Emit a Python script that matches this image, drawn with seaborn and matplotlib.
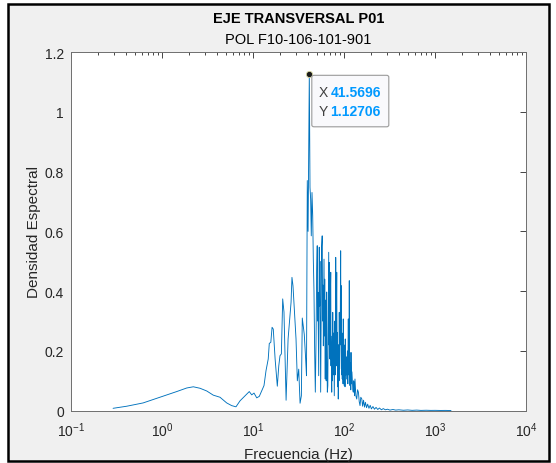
import matplotlib
matplotlib.use('Agg')
import numpy as np
import pandas as pd
import seaborn as sns
import matplotlib.pyplot as plt
from matplotlib.patches import Rectangle, FancyBboxPatch
from matplotlib.ticker import FixedLocator, FormatStrFormatter, LogLocator, NullFormatter

# ---------------- data ----------------
# low-frequency part
freq_low = [0.29, 0.41, 0.62, 0.95, 1.45, 1.87, 2.21, 2.62, 3.10, 3.66,
            4.34, 5.14, 5.83, 6.50, 7.20, 8.17, 9.10, 9.68, 10.26, 10.99,
            11.73, 12.47, 13.21, 13.9, 14.7, 15.1, 15.7, 16.2, 16.7, 17.5,
            18.5, 19.2, 19.8]
dens_low = [0.008, 0.015, 0.026, 0.045, 0.064, 0.076, 0.080, 0.075, 0.066, 0.052,
            0.045, 0.026, 0.017, 0.013, 0.033, 0.050, 0.064, 0.053, 0.059, 0.043,
            0.048, 0.067, 0.084, 0.134, 0.173, 0.225, 0.229, 0.279, 0.273, 0.173,
            0.082, 0.150, 0.184]
# main peak region
freq_peak = [20.5, 21.2, 21.9, 23.1, 24.3, 26.2, 26.8, 27.5, 29.7, 30.7,
             31.8, 32.9, 34.0, 34.8, 36.6, 37.9, 38.7, 39.5, 40.3, 41.5696,
             42.3, 43.0, 43.7, 44.5, 45.3, 46.0]
dens_peak = [0.190, 0.374, 0.330, 0.035, 0.240, 0.363, 0.446, 0.418, 0.240, 0.100,
             0.139, 0.025, 0.050, 0.310, 0.255, 0.173, 0.117, 0.770, 0.600, 1.12706,
             0.747, 0.708, 0.585, 0.730, 0.652, 0.507]
# dense band
freq_band = [46.8, 47.6, 48.4, 49.2, 50.1, 50.8, 51.3, 51.8, 52.7, 53.5,
             54.0, 54.4, 55.0, 55.4, 56.1, 56.8, 57.6, 58.3, 58.8, 59.3,
             60.3, 60.9, 61.4, 62.2, 62.6, 63.0, 63.8, 64.5, 65.0, 65.6,
             66.4, 67.2, 67.9, 68.5, 69.0, 69.5, 70.0, 70.8, 71.5, 72.0,
             72.4, 73.3, 73.8, 74.2, 74.7, 75.2, 75.9, 76.7, 77.4, 78.2,
             78.9, 79.5, 80.3, 81.1, 81.7, 82.2, 82.7, 83.2, 83.8, 84.4,
             85.0, 85.5, 86.0, 86.5, 87.1, 87.6, 88.2, 88.7, 89.5, 90.3,
             91.1, 91.9, 92.6, 93.4, 94.0, 94.5, 95.1, 95.7, 96.3, 97.0,
             97.6, 98.2, 98.8, 99.5, 100.1, 100.7, 101.4, 102.0, 102.6, 103.3,
             104.1, 105.0, 106.0, 107.0, 108.0, 109.0, 110.2, 111.5, 112.3, 113.0,
             113.7, 114.3, 115.3, 116.4, 117.2, 118.0, 118.7, 119.4, 120.2, 121.0,
             122.2, 123.4, 125.0, 126.5, 127.8, 129.0, 130.5, 132.0]
dens_band = [0.397, 0.196, 0.062, 0.217, 0.464, 0.552, 0.300, 0.396, 0.117, 0.547,
             0.350, 0.500, 0.200, 0.062, 0.300, 0.550, 0.585, 0.300, 0.420, 0.217,
             0.507, 0.250, 0.440, 0.106, 0.280, 0.370, 0.100, 0.397, 0.180, 0.062,
             0.084, 0.350, 0.530, 0.220, 0.496, 0.300, 0.173, 0.380, 0.463, 0.150,
             0.200, 0.062, 0.220, 0.250, 0.100, 0.329, 0.180, 0.120, 0.260, 0.050,
             0.200, 0.300, 0.120, 0.513, 0.280, 0.150, 0.360, 0.463, 0.200, 0.262,
             0.080, 0.140, 0.220, 0.039, 0.160, 0.220, 0.100, 0.329, 0.140, 0.200,
             0.320, 0.535, 0.220, 0.418, 0.120, 0.150, 0.260, 0.106, 0.190, 0.250,
             0.090, 0.307, 0.150, 0.120, 0.220, 0.084, 0.180, 0.200, 0.080, 0.240,
             0.130, 0.120, 0.180, 0.106, 0.160, 0.200, 0.090, 0.307, 0.120, 0.150,
             0.250, 0.435, 0.120, 0.084, 0.130, 0.160, 0.070, 0.195, 0.100, 0.090,
             0.130, 0.106, 0.070, 0.062, 0.100, 0.090, 0.050, 0.106]
# high-frequency tail
freq_tail = [135.0, 138.0, 141.0, 144.0, 147.0, 150.0, 153.0, 157.0, 160.0, 164.0,
             168.0, 172.0, 177.0, 182.0, 188.0, 194.0, 200.0, 208.0, 216.0, 225.0,
             235.0, 245.0, 258.0, 270.0, 285.0, 300.0, 320.0, 345.0, 370.0, 400.0,
             450.0, 500.0, 560.0, 630.0, 700.0, 800.0, 900.0, 1000.0, 1150.0, 1300.0,
             1500.0]
dens_tail = [0.050, 0.039, 0.070, 0.062, 0.030, 0.017, 0.045, 0.039, 0.015, 0.035,
             0.012, 0.028, 0.010, 0.022, 0.008, 0.018, 0.006, 0.014, 0.005, 0.011,
             0.004, 0.009, 0.003, 0.007, 0.003, 0.005, 0.002, 0.004, 0.002, 0.003,
             0.0015, 0.0025, 0.0012, 0.002, 0.001, 0.0015, 0.001, 0.0012, 0.0008, 0.001,
             0.0006]

peak_x = 41.5696
peak_y = 1.12706

xticks = [1e-1, 1e0, 1e1, 1e2, 1e3, 1e4]
yticks = [0, 0.2, 0.4, 0.6, 0.8, 1.0, 1.2]

title_txt = "EJE TRANSVERSAL P01"
subtitle_txt = "POL F10-106-101-901"
xlabel_txt = "Frecuencia (Hz)"
ylabel_txt = "Densidad Espectral"

# ---------------- figure ----------------
sns.set_theme(style='white')
plt.rcParams['font.family'] = ['Liberation Sans', 'DejaVu Sans']

W, H = 556, 464
fig = plt.figure(figsize=(W / 100, H / 100), dpi=100, facecolor='white')
fig.patches.append(Rectangle((8 / W, 1 - 462 / H), (549 - 8) / W, (462 - 5) / H,
                             transform=fig.transFigure, facecolor='#f0f0f0',
                             edgecolor='black', lw=1.8, zorder=-10))

ax = fig.add_axes([71 / W, 1 - 411.7 / H, (526 - 71) / W, (411.7 - 53) / H])
ax.set_facecolor('white')

df = pd.DataFrame({'Frecuencia': freq_low + freq_peak + freq_band + freq_tail,
                   'Densidad': dens_low + dens_peak + dens_band + dens_tail})
sns.lineplot(data=df, x='Frecuencia', y='Densidad', ax=ax, color='#0072BD',
             lw=0.65, sort=False, estimator=None)

ax.set_xscale('log')
ax.set_xlim(0.1, 1e4)
ax.set_ylim(0, 1.2)
ax.xaxis.set_major_locator(FixedLocator(xticks))
ax.xaxis.set_minor_locator(LogLocator(base=10, subs=np.arange(2, 10)))
ax.xaxis.set_minor_formatter(NullFormatter())
ax.yaxis.set_major_locator(FixedLocator(yticks))
ax.yaxis.set_major_formatter(FormatStrFormatter('%g'))

tc = '#262626'
ax.tick_params(which='both', direction='in', top=True, right=True, color=tc,
               labelcolor=tc, labelsize=10, width=0.6)
ax.tick_params(which='major', length=4)
ax.tick_params(which='minor', length=2)
ax.tick_params(axis='x', which='major', pad=7)
ax.tick_params(axis='y', which='major', pad=5)
for s in ax.spines.values():
    s.set_color('#6e6e6e')
    s.set_linewidth(0.7)

ax.set_xlabel(xlabel_txt, fontsize=11, color=tc, labelpad=6)
ax.set_ylabel(ylabel_txt, fontsize=11, color=tc, labelpad=3)

fig.text(298.5 / W, 1 - 19 / H, title_txt, ha='center', va='center',
         fontsize=10.5, fontweight='bold', color='black')
fig.text(298.5 / W, 1 - 40 / H, subtitle_txt, ha='center', va='center',
         fontsize=10.5, color='black')

# ---------------- data tip ----------------
ax.plot([peak_x], [peak_y], 'o', ms=4.5, mfc='#1a1a1a', mec='#d8d8a0', mew=0.6,
        zorder=5)
fig.canvas.draw()
px, py = ax.transData.transform((peak_x, peak_y))
inv = fig.transFigure.inverted()


def fpos(dx, dy):
    return inv.transform((px + dx, py + dy))


bx0, by0 = fpos(2.5, -53)
bx1, by1 = fpos(79.5, -1.5)
fig.patches.append(FancyBboxPatch((bx0, by0), bx1 - bx0, by1 - by0,
                                  boxstyle='round,pad=0,rounding_size=0.004',
                                  transform=fig.transFigure, facecolor='#f9f9fc',
                                  edgecolor='#9a9a9a', lw=0.8, zorder=10))
for lab, val, dy in [('X', '41.5696', -18.5), ('Y', '1.12706', -37.5)]:
    x0, y0 = fpos(9, dy)
    fig.text(x0, y0, lab, ha='left', va='center', fontsize=10, color='#404040',
             zorder=11)
    x1, y1 = fpos(21, dy)
    fig.text(x1, y1, val, ha='left', va='center', fontsize=10, color='#0099FF',
             fontweight='bold', zorder=11)

fig.savefig('out.png', dpi=100, facecolor='white')
